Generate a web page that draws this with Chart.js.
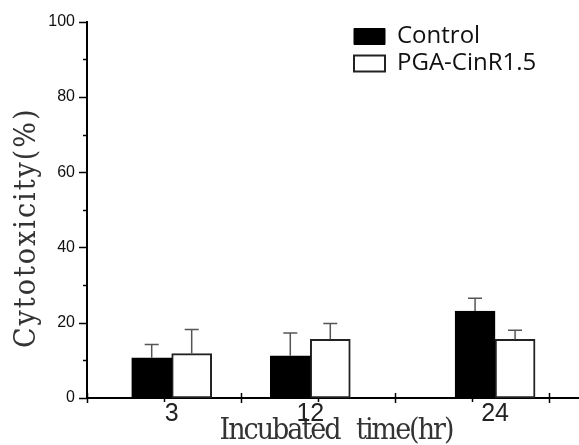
<!DOCTYPE html>
<html>
<head>
<meta charset="utf-8">
<script src="https://cdn.jsdelivr.net/npm/chart.js@4/dist/chart.umd.min.js"></script>
<style>
  html, body { margin: 0; padding: 0; background: #fff; overflow: hidden; }
  #wrap { width: 579px; height: 445px; }
</style>
</head>
<body>
<div id="wrap"><canvas id="c" width="579" height="445"></canvas></div>
<script>
// ---- data ----
const hours = [3, 12, 24];                 // incubation time (hr)
const hourLabels = ['3', '12', '24'];      // x tick labels
const seriesNames = ['Control', 'PGA-CinR1.5'];
const controlValues = [10.7, 11.2, 23.1];  // cytotoxicity (%)
const controlErrors = [3.5, 6.1, 3.4];
const pgaValues = [11.8, 15.6, 15.6];
const pgaErrors = [6.4, 4.2, 2.4];
const yTicks = [0, 20, 40, 60, 80, 100];

// ---- styling / layout ----
const X_MIN = -2.5, X_MAX = 29.45;
const X_MAJOR_STEP = 10, Y_MAJOR_STEP = 20;
const titleFont = { family: '"DejaVu Serif Condensed", "DejaVu Serif", serif', size: 30 };

const errorBars = {
  id: 'errorBars',
  afterDatasetsDraw(chart) {
    const ctx = chart.ctx;
    const ys = chart.scales.y;
    const errs = [controlErrors, pgaErrors];
    const vals = [controlValues, pgaValues];
    ctx.save();
    ctx.strokeStyle = '#555';
    ctx.lineWidth = 1.5;
    chart.data.datasets.forEach((ds, di) => {
      const meta = chart.getDatasetMeta(di);
      meta.data.forEach((bar, j) => {
        const top = ys.getPixelForValue(vals[di][j] + errs[di][j]);
        ctx.beginPath();
        ctx.moveTo(bar.x, bar.y);
        ctx.lineTo(bar.x, top);
        ctx.moveTo(bar.x - 7, top);
        ctx.lineTo(bar.x + 7, top);
        ctx.stroke();
      });
    });
    ctx.restore();
  }
};

const tickMarks = {
  id: 'tickMarks',
  afterDraw(chart) {
    const ctx = chart.ctx;
    const xs = chart.scales.x, ys = chart.scales.y;
    const ca = chart.chartArea;
    ctx.save();
    ctx.strokeStyle = '#000';
    ctx.lineWidth = 1.5;
    for (let v = X_MIN; v <= X_MAX; v += X_MAJOR_STEP / 2) {
      const px = Math.round(xs.getPixelForValue(v)) + 0.5;
      const major = Math.abs(((v - X_MIN) / X_MAJOR_STEP) % 1) < 1e-6;
      ctx.beginPath();
      if (major) { ctx.moveTo(px, ca.bottom - 5); ctx.lineTo(px, ca.bottom + 5); }
      else { ctx.moveTo(px, ca.bottom); ctx.lineTo(px, ca.bottom + 4); }
      ctx.stroke();
    }
    for (let v = 0; v <= 100; v += Y_MAJOR_STEP / 2) {
      const py = Math.round(ys.getPixelForValue(v)) + 0.5;
      const major = v % Y_MAJOR_STEP === 0;
      ctx.beginPath();
      ctx.moveTo(ca.left - (major ? 8 : 4), py);
      ctx.lineTo(ca.left, py);
      ctx.stroke();
    }
    ctx.restore();
  }
};

function styleTitle(scale, dx, dy, spacing, wordSpacing) {
  if (scale._styled) return;
  const orig = Object.getPrototypeOf(scale).drawTitle;
  scale.drawTitle = function (area) {
    this.ctx.save();
    this.ctx.translate(dx, dy);
    this.ctx.letterSpacing = spacing;
    this.ctx.wordSpacing = wordSpacing;
    orig.call(this, area);
    this.ctx.restore();
  };
  scale._styled = true;
}

const placement = {
  id: 'placement',
  afterLayout(chart) {
    const lg = chart.legend;
    if (lg) { lg.left = 351; lg.top = 21.5; }
    styleTitle(chart.scales.y, 0, 18, '2px', '0px');
    styleTitle(chart.scales.x, 3, 0, '-2px', '10px');
  }
};

new Chart(document.getElementById('c'), {
  type: 'bar',
  data: {
    datasets: [
      {
        label: seriesNames[0],
        data: hours.map((h, i) => ({ x: h, y: controlValues[i] })),
        backgroundColor: '#000',
        borderColor: '#000',
        borderWidth: 1,
        borderSkipped: false
      },
      {
        label: seriesNames[1],
        data: hours.map((h, i) => ({ x: h, y: pgaValues[i] })),
        backgroundColor: '#fff',
        borderColor: '#222',
        borderWidth: 2,
        borderSkipped: false
      }
    ]
  },
  options: {
    responsive: false,
    animation: false,
    events: [],
    layout: { padding: { top: 21, right: 0, left: 0, bottom: 0 } },
    datasets: { bar: { barThickness: 40, grouped: true } },
    plugins: {
      tooltip: { enabled: false },
      legend: {
        position: 'chartArea',
        align: 'start',
        labels: {
          boxWidth: 31,
          boxHeight: 16,
          padding: 3,
          color: '#111',
          font: { family: '"Open Sans", "Noto Sans", sans-serif', size: 24 }
        }
      }
    },
    scales: {
      x: {
        type: 'linear',
        min: X_MIN,
        max: X_MAX,
        offset: false,
        afterBuildTicks(scale) { scale.ticks = hours.map(v => ({ value: v })); },
        afterFit(scale) { scale.height = 47; },
        ticks: {
          autoSkip: false,
          maxRotation: 0,
          padding: 1,
          color: '#222',
          font: { family: '"Liberation Sans", Arial, sans-serif', size: 25 },
          callback: (v) => hourLabels[hours.indexOf(v)]
        },
        grid: { display: false, drawTicks: false },
        border: { display: true, color: '#000', width: 2 },
        title: {
          display: true,
          text: 'Incubated time(hr)',
          color: '#333',
          font: Object.assign({ lineHeight: 0.9 }, titleFont),
          padding: 0
        }
      },
      y: {
        type: 'linear',
        min: 0,
        max: 100,
        afterBuildTicks(scale) { scale.ticks = yTicks.map(v => ({ value: v })); },
        afterFit(scale) { scale.width = 87; },
        ticks: {
          padding: 12,
          color: '#111',
          font: { family: '"Liberation Sans", Arial, sans-serif', size: 16 }
        },
        grid: { display: false, drawTicks: false },
        border: { display: true, color: '#000', width: 2 },
        title: {
          display: true,
          text: 'Cytotoxicity(%)',
          color: '#333',
          font: titleFont,
          padding: { top: 9, bottom: 0 }
        }
      }
    }
  },
  plugins: [errorBars, tickMarks, placement]
});
</script>
</body>
</html>
